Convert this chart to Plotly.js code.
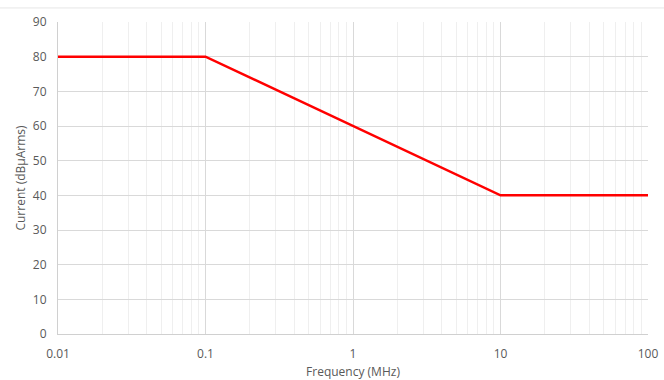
<!DOCTYPE html>
<html><head><meta charset="utf-8">
<script src="https://cdn.plot.ly/plotly-3.0.1.min.js"></script>
<style>html,body{margin:0;padding:0;background:#fff}</style>
</head><body>
<div id="chart" style="width:664px;height:380px"></div>
<script>
const freqMHz = [0.01, 0.1, 10, 100];
const currentdB = [80, 80, 40, 40];
const xTickVals = [0.01, 0.1, 1, 10, 100];
const xTickText = ["0.01", "0.1", "1", "10", "100"];

const font = {family: "Open Sans, Noto Sans, sans-serif", size: 12, color: "#595959"};
const titleFont = {family: "Open Sans, Noto Sans, sans-serif", size: 12, color: "#595959"};
Plotly.newPlot("chart", [{
  x: freqMHz, y: currentdB, type: "scatter", mode: "lines",
  line: {color: "#ff0000", width: 2.5}, hoverinfo: "skip"
}], {
  width: 664, height: 380,
  margin: {l: 58, r: 16, t: 22, b: 46},
  paper_bgcolor: "#ffffff", plot_bgcolor: "#ffffff",
  font: font,
  showlegend: false,
  xaxis: {
    type: "log", range: [-2, 2],
    tickvals: xTickVals, ticktext: xTickText,
    showgrid: true, gridcolor: "#d9d9d9", gridwidth: 1,
    minor: {dtick: "D1", showgrid: true, gridcolor: "#efefef", gridwidth: 1, ticks: ""},
    showline: true, linecolor: "#d0d0d0", linewidth: 1, mirror: false,
    ticks: "", ticklen: 0, tickfont: font, ticklabelstandoff: 9,
    title: {text: "Frequency (MHz)", font: titleFont, standoff: 8},
    zeroline: false, fixedrange: true
  },
  yaxis: {
    range: [0, 90], dtick: 10,
    showgrid: true, gridcolor: "#d9d9d9", gridwidth: 1,
    showline: true, linecolor: "#d0d0d0", linewidth: 1,
    ticks: "", tickfont: font, ticklabelstandoff: 8,
    title: {text: "Current (dBμArms)", font: titleFont, standoff: 4},
    zeroline: false, fixedrange: true
  },
  shapes: [{type: "line", xref: "paper", yref: "paper", x0: -0.1, x1: 1.05, y0: 1.045, y1: 1.045,
            line: {color: "#e6e6e6", width: 1}}]
}, {staticPlot: true, displayModeBar: false});
</script>
</body></html>
